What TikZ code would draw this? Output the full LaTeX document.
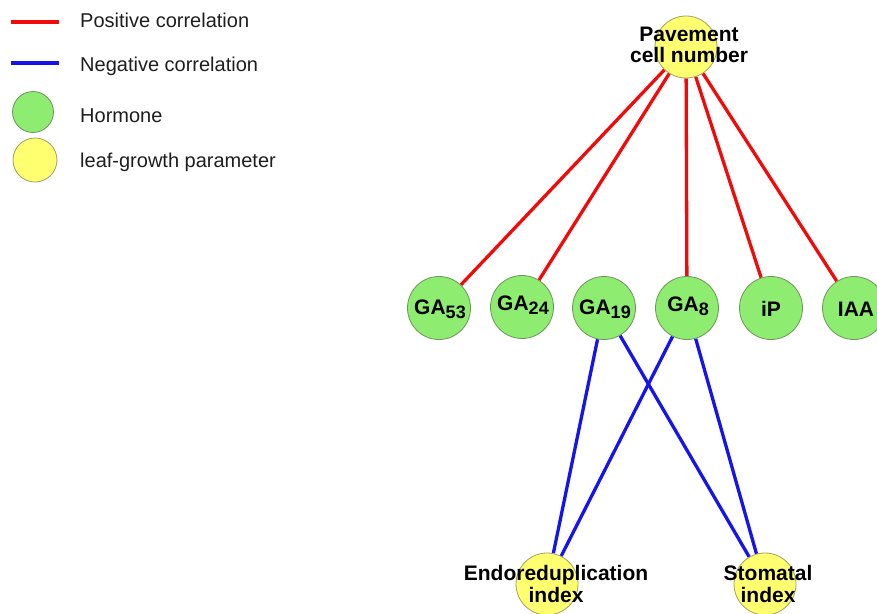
\documentclass[tikz,border=0pt]{standalone}
\usepackage{fontspec}
\setmainfont{Liberation Sans}
\usetikzlibrary{backgrounds}
\definecolor{hgreen}{RGB}{142,236,112}
\definecolor{hgreenb}{RGB}{110,150,90}
\definecolor{pyellow}{RGB}{255,255,112}
\definecolor{pyellowb}{RGB}{160,160,100}
\definecolor{posred}{RGB}{240,10,10}
\definecolor{negblue}{RGB}{20,20,235}
\definecolor{legtext}{RGB}{30,30,30}
\newcommand{\sbs}[1]{\raisebox{-0.35ex}{\fontsize{18}{18}\selectfont #1}}
\tikzset{
  hormone/.style={circle, draw=hgreenb, fill=hgreen, line width=0.8pt, minimum size=63pt, inner sep=0pt},
  param/.style={circle, draw=pyellowb, fill=pyellow, line width=0.8pt, minimum size=62pt, inner sep=0pt},
  lbl/.style={font=\fontsize{21}{21.5}\selectfont\bfseries, align=center, inner sep=0pt},
  leg/.style={font=\fontsize{20}{20}\selectfont, text=legtext, anchor=west, inner sep=0pt},
  posline/.style={draw=posred, line width=3.3pt},
  negline/.style={draw=negblue, line width=3.3pt}
}
\begin{document}
\begin{tikzpicture}[x=1pt,y=-1pt]
\useasboundingbox (0,0) rectangle (877,613);
\clip (0,0) rectangle (877,613);
% legend
\coordinate (lr1) at (11,22);
\coordinate (lr2) at (59,22);
\coordinate (lb1) at (11,63);
\coordinate (lb2) at (59,63);
\draw[posline] (lr1) -- (lr2);
\draw[negline] (lb1) -- (lb2);
\node[hormone, minimum size=41pt] (lgh) at (33,112) {};
\node[param, minimum size=44pt] (lgp) at (35,160) {};
\node[leg] (t1) at (80,20) {Positive correlation};
\node[leg] (t2) at (80,66) {Negative correlation};
\node[leg] (t3) at (80,116) {Hormone};
\node[leg] (t4) at (80,162) {leaf-growth parameter};
% nodes
\node[param] (pcn) at (686,47) {};
\node[hormone] (ga53) at (439,308) {};
\node[hormone] (ga24) at (522,307) {};
\node[hormone] (ga19) at (604,308) {};
\node[hormone] (ga8) at (687,308) {};
\node[hormone] (ip) at (771,308) {};
\node[hormone] (iaa) at (854,308) {};
\node[param] (endo) at (547,584) {};
\node[param] (stom) at (765,584) {};
% edges
\begin{scope}[on background layer]
\foreach \h in {ga53,ga24,ga8,ip,iaa} \draw[posline] (pcn) -- (\h);
\draw[negline] (ga19) -- (endo);
\draw[negline] (ga19) -- (stom);
\draw[negline] (ga8) -- (endo);
\draw[negline] (ga8) -- (stom);
\end{scope}
% labels
\node[lbl] (lpcn) at (689,45) {Pavement\\cell number};
\node[lbl] (l53) at (440,309) {GA\sbs{53}};
\node[lbl] (l24) at (523,305) {GA\sbs{24}};
\node[lbl] (l19) at (605,309) {GA\sbs{19}};
\node[lbl] (l8) at (688,306) {GA\sbs{8}};
\node[lbl] (lip) at (771,309) {iP};
\node[lbl] (liaa) at (856,309) {IAA};
\node[lbl] (lendo) at (556,584) {Endoreduplication\\index};
\node[lbl] (lstom) at (768,584) {Stomatal\\index};
\end{tikzpicture}
\end{document}
